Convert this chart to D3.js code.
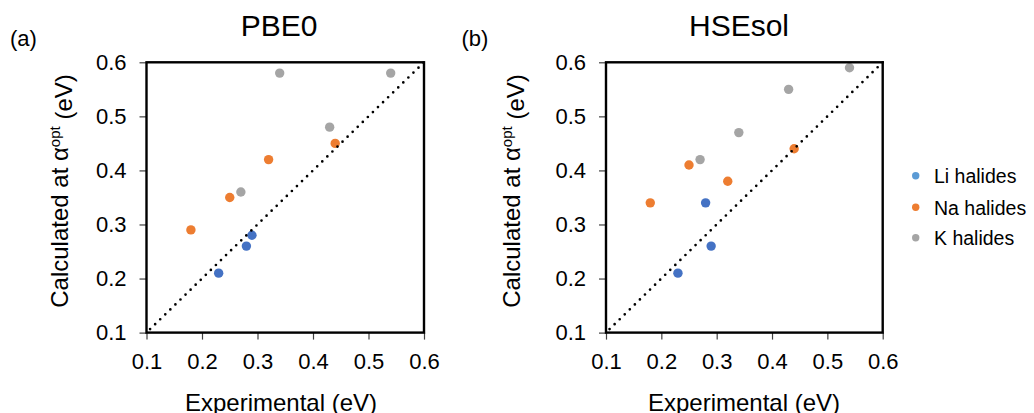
<!DOCTYPE html>
<html>
<head>
<meta charset="utf-8">
<script src="https://cdn.jsdelivr.net/npm/d3@7"></script>
<style>
  html, body { margin: 0; padding: 0; background: #fff; }
  svg { display: block; font-family: "Liberation Sans", Arial, sans-serif; }
</style>
</head>
<body>
<svg id="chart" width="1034" height="413"></svg>
<script>
// Band gaps: experimental vs. calculated at the optimal mixing fraction
const methods = ["PBE0", "HSEsol"];
const panelTags = ["(a)", "(b)"];
const seriesNames = ["Li halides", "Na halides", "K halides"];
const axisTicks = [0.1, 0.2, 0.3, 0.4, 0.5, 0.6];

const liExp = [0.23, 0.28, 0.29];
const liPBE0 = [0.21, 0.26, 0.28];
const liHSEsol = [0.21, 0.34, 0.26];

const naExp = [0.18, 0.25, 0.32, 0.44];
const naPBE0 = [0.29, 0.35, 0.42, 0.45];
const naHSEsol = [0.34, 0.41, 0.38, 0.44];

const kExp = [0.27, 0.34, 0.43, 0.54];
const kPBE0 = [0.36, 0.58, 0.48, 0.58];
const kHSEsol = [0.42, 0.47, 0.55, 0.59];

const markColors = ["#4472C4", "#ED7D31", "#A5A5A5"];
const legendColors = ["#5B9BD5", "#ED7D31", "#A5A5A5"];

const panelData = [
  [
    { exp: liExp, calc: liPBE0 },
    { exp: naExp, calc: naPBE0 },
    { exp: kExp, calc: kPBE0 }
  ],
  [
    { exp: liExp, calc: liHSEsol },
    { exp: naExp, calc: naHSEsol },
    { exp: kExp, calc: kHSEsol }
  ]
];

const svg = d3.select("#chart");
const domain = [0.1, 0.6];
const fmt = d3.format(".1f");

// plot-box geometry for each panel
const panelLayout = [
  { left: 146.5, right: 424, tagX: 10, titleX: 279, yLabelX: 67.5, xLabelX: 281 },
  { left: 606, right: 882.7, tagX: 461.5, titleX: 739, yLabelX: 519.5, xLabelX: 744 }
];
const plotTop = 62.3, plotBottom = 332.6;

panelLayout.forEach((L, p) => {
  const g = svg.append("g");
  const x = d3.scaleLinear().domain(domain).range([L.left, L.right]);
  const y = d3.scaleLinear().domain(domain).range([plotBottom, plotTop]);

  // axes (ticks and labels only; the frame is drawn separately)
  const xAxis = g.append("g")
    .attr("transform", `translate(0,${plotBottom})`)
    .call(d3.axisBottom(x).tickValues(axisTicks).tickFormat(fmt)
      .tickSize(7).tickSizeOuter(0).tickPadding(14));
  const yAxis = g.append("g")
    .attr("transform", `translate(${L.left},0)`)
    .call(d3.axisLeft(y).tickValues(axisTicks).tickFormat(fmt)
      .tickSize(7).tickSizeOuter(0).tickPadding(13));
  [xAxis, yAxis].forEach(a => {
    a.select(".domain").remove();
    a.selectAll(".tick line").attr("stroke", "#404040").attr("stroke-width", 1.2);
    a.selectAll(".tick text")
      .attr("fill", "#000")
      .style("font-size", "22px")
      .style("font-family", "'Liberation Sans', Arial, sans-serif");
  });

  // data points
  panelData[p].forEach((s, si) => {
    const pts = s.exp.map((e, i) => [e, s.calc[i]]);
    g.append("g").selectAll("circle")
      .data(pts)
      .join("circle")
      .attr("cx", d => x(d[0]))
      .attr("cy", d => y(d[1]))
      .attr("r", 4.7)
      .attr("fill", markColors[si]);
  });

  // y = x reference line
  g.append("line")
    .attr("x1", x(domain[0])).attr("y1", y(domain[0]))
    .attr("x2", x(domain[1])).attr("y2", y(domain[1]))
    .attr("stroke", "#000")
    .attr("stroke-width", 2.7)
    .attr("stroke-linecap", "round")
    .attr("stroke-dasharray", "0 7.07")
    .attr("stroke-dashoffset", 2.07);

  // frame
  g.append("rect")
    .attr("x", L.left).attr("y", plotTop)
    .attr("width", L.right - L.left).attr("height", plotBottom - plotTop)
    .attr("fill", "none")
    .attr("stroke", "#000")
    .attr("stroke-width", 2.4);

  // titles and labels
  g.append("text")
    .attr("x", L.titleX).attr("y", 36)
    .attr("text-anchor", "middle")
    .style("font-size", "30px")
    .text(methods[p]);

  g.append("text")
    .attr("x", L.tagX).attr("y", 46)
    .style("font-size", "22px")
    .text(panelTags[p]);

  g.append("text")
    .attr("x", L.xLabelX).attr("y", 411)
    .attr("text-anchor", "middle")
    .style("font-size", "24px")
    .text("Experimental (eV)");

  const yl = g.append("text")
    .attr("transform", `translate(${L.yLabelX},191) rotate(-90)`)
    .attr("text-anchor", "middle")
    .style("font-size", "24px");
  yl.append("tspan").text("Calculated at \u03B1");
  yl.append("tspan").attr("dy", "-0.5em").style("font-size", "15px").text("opt");
  yl.append("tspan").attr("dy", "0.5em").text(" (eV)");
});

// legend
const legendYs = [175.7, 207.3, 237.7];
const legend = svg.append("g");
seriesNames.forEach((name, i) => {
  legend.append("circle")
    .attr("cx", 915.7).attr("cy", legendYs[i])
    .attr("r", 3.7)
    .attr("fill", legendColors[i]);
  legend.append("text")
    .attr("x", 934).attr("y", legendYs[i] + 7.6)
    .style("font-size", "19.5px")
    .text(name);
});
</script>
</body>
</html>
